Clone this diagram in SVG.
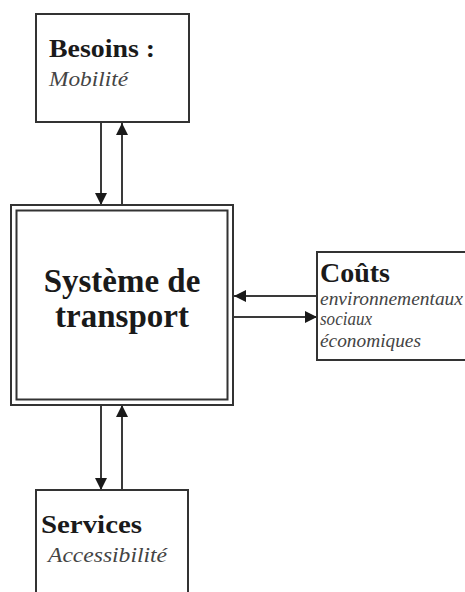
<svg xmlns="http://www.w3.org/2000/svg" width="465" height="592" viewBox="0 0 465 592">
<defs>
<style>
.box{fill:#fff;stroke:#333;stroke-width:2}
.ln{stroke:#3a3a3a;stroke-width:2;fill:none}
.t{font-family:"Liberation Serif","Times New Roman",serif;fill:#1a1a1a}
.b{font-weight:bold}
.i{font-style:italic;fill:#444}
</style>
<marker id="ah" viewBox="0 0 12 12" refX="12" refY="6" markerWidth="12" markerHeight="12" markerUnits="userSpaceOnUse" orient="auto">
<path d="M0,0 L12,6 L0,12 Z" fill="#1a1a1a"/>
</marker>
</defs>
<rect width="465" height="592" fill="#fff"/>
<g id="connectors">
<line class="ln" x1="101" y1="123" x2="101" y2="205" marker-end="url(#ah)"/>
<line class="ln" x1="122" y1="205" x2="122" y2="123" marker-end="url(#ah)"/>
<line class="ln" x1="101" y1="405" x2="101" y2="490" marker-end="url(#ah)"/>
<line class="ln" x1="122" y1="490" x2="122" y2="405" marker-end="url(#ah)"/>
<line class="ln" x1="317" y1="296" x2="234" y2="296" marker-end="url(#ah)"/>
<line class="ln" x1="234" y1="317" x2="317" y2="317" marker-end="url(#ah)"/>
</g>
<g id="besoins">
<rect class="box" x="36" y="14" width="153" height="108"/>
<text class="t b" x="49" y="57" font-size="26" textLength="106" lengthAdjust="spacingAndGlyphs">Besoins :</text>
<text class="t i" x="49" y="86" font-size="20" textLength="79" lengthAdjust="spacingAndGlyphs">Mobilité</text>
</g>
<g id="systeme">
<rect class="box" x="11" y="205" width="222" height="200"/>
<rect x="16.5" y="210.5" width="211" height="189" fill="none" stroke="#333" stroke-width="2"/>
<text class="t b" x="122" y="292" font-size="33" text-anchor="middle">Système de</text>
<text class="t b" x="122" y="327" font-size="33" text-anchor="middle">transport</text>
</g>
<g id="couts">
<rect class="box" x="317" y="252" width="160" height="108"/>
<text class="t b" x="320" y="282" font-size="28">Coûts</text>
<text class="t i" x="320" y="305" font-size="18" textLength="143" lengthAdjust="spacingAndGlyphs">environnementaux</text>
<text class="t i" x="320" y="325" font-size="18" textLength="52" lengthAdjust="spacingAndGlyphs">sociaux</text>
<text class="t i" x="320" y="347" font-size="18" textLength="101" lengthAdjust="spacingAndGlyphs">économiques</text>
</g>
<g id="services">
<rect class="box" x="36" y="490" width="152" height="120"/>
<text class="t b" x="41" y="533" font-size="26" textLength="101" lengthAdjust="spacingAndGlyphs">Services</text>
<text class="t i" x="48" y="562" font-size="20" textLength="119" lengthAdjust="spacingAndGlyphs">Accessibilité</text>
</g>
</svg>
